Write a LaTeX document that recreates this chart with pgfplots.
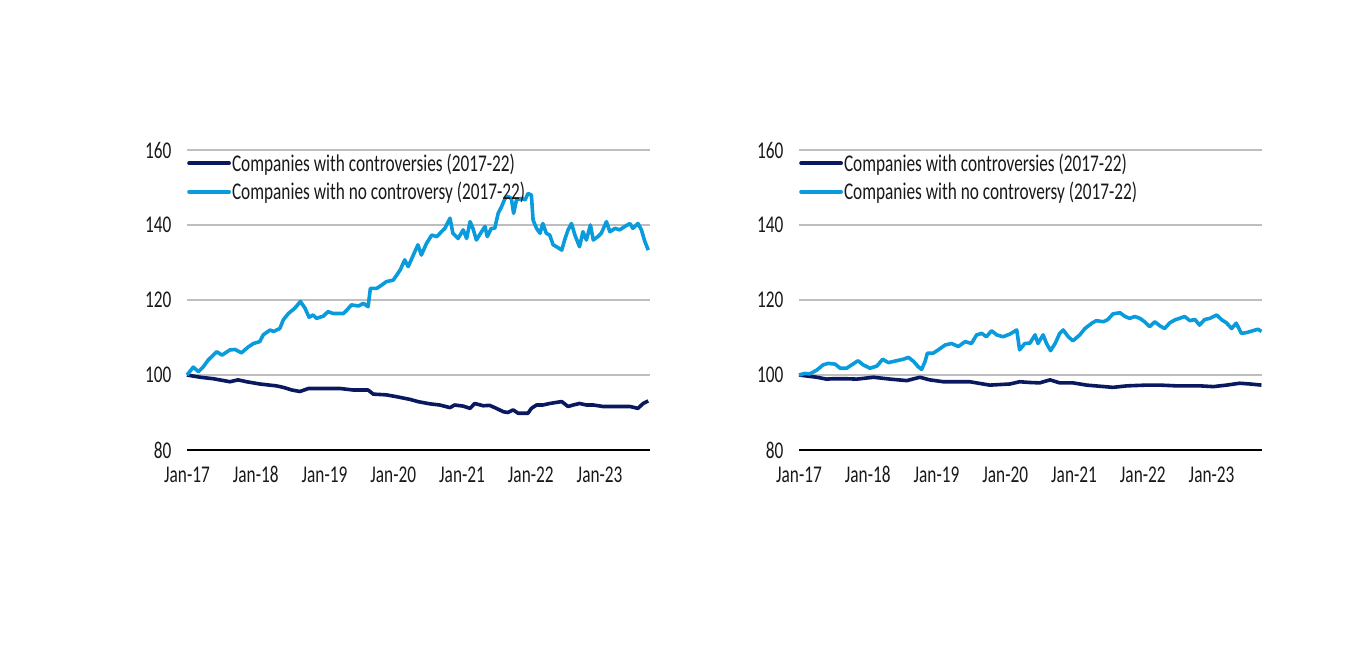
\documentclass[border=0pt]{standalone}
\usepackage{fontspec}
\setmainfont{Carlito}[FakeStretch=0.72]
\usepackage{pgfplots}
\pgfplotsset{compat=1.18}

\definecolor{navy}{RGB}{10,25,95}
\definecolor{sky}{RGB}{10,155,220}
\definecolor{gridgray}{RGB}{190,190,190}

% common look of both panels
\pgfplotsset{
  panel/.style={
    scale only axis,
    width=463pt, height=300pt,
    xmin=0, xmax=80.8,
    ymin=80, ymax=160,
    ytick={80,100,120,140,160},
    xtick={0,12,24,36,48,60,72},
    xticklabels={Jan-17,Jan-18,Jan-19,Jan-20,Jan-21,Jan-22,Jan-23},
    axis x line*=bottom, axis y line*=left,
    y axis line style={draw=none},
    x axis line style={black, line width=2pt, -},
    major tick length=0pt,
    ymajorgrids, grid style={gridgray, line width=1.5pt},
    tick label style={font=\fontsize{24}{26}\selectfont, text=black!90},
    /pgf/number format/assume math mode=true,
    xticklabel style={anchor=base, yshift=-33pt},
    yticklabel style={xshift=-12pt},
    legend style={at={(0,1)}, anchor=north west, draw=none, fill=none,
      font=\fontsize{24}{26}\selectfont, text=black!90,
      inner xsep=0pt, inner ysep=0pt, yshift=-3.5pt,
      row sep=9.5pt,
      nodes={inner xsep=1pt, inner ysep=0pt}},
    legend cell align=left,
    legend image code/.code={\draw[#1, line width=3.8pt, line cap=round] (0pt,0pt) -- (40pt,0pt);},
    clip=false,
  },
  ctrv/.style={navy, line width=3.6pt, line join=round},
  noctrv/.style={sky, line width=3.6pt, line join=round},
}

\begin{document}
\begin{tikzpicture}
\useasboundingbox (0pt,0pt) rectangle (1366pt,661pt);

% left panel
\begin{axis}[panel, at={(187pt,211pt)}, anchor=south west]
\addplot[ctrv] coordinates {
(0,100) (2.3,99.4) (4.6,99.0) (7.5,98.2) (8.9,98.7) (10.4,98.2) (12.7,97.6)
(15.6,97.1) (16.8,96.7) (18.3,96.0) (19.7,95.6) (21.2,96.4) (23.2,96.4)
(26.7,96.4) (29.0,96.0) (31.6,96.0) (32.5,94.9) (34.8,94.7) (36.6,94.2)
(38.9,93.5) (40.3,92.9) (42.4,92.3) (44.1,92.0) (45.9,91.3) (46.7,92.0)
(48.2,91.7) (49.4,91.1) (50.2,92.4) (51.7,91.8) (52.8,91.9) (54.0,91.1)
(55.2,90.2) (56.0,90.0) (56.9,90.7) (57.8,89.8) (59.5,89.8) (60.1,91.1)
(61.0,92.0) (62.1,92.0) (63.3,92.4) (64.5,92.7) (65.4,92.9) (66.5,91.6)
(67.4,92.0) (68.5,92.4) (69.7,92.0) (70.9,92.0) (72.6,91.6) (74.9,91.6)
(77.3,91.6) (78.7,91.1) (79.6,92.4) (80.5,93.1)
};
\addlegendentry{Companies with controversies (2017-22)}
\addplot[noctrv] coordinates {
(0,100) (1.1,102.1) (2.0,100.9) (2.8,102.1) (3.7,104.0) (5.2,106.2) (6.1,105.3)
(7.5,106.7) (8.4,106.8) (9.5,105.9) (10.7,107.5) (11.6,108.4) (12.7,108.9)
(13.3,110.7) (14.5,112.0) (15.1,111.6) (16.2,112.4) (16.8,114.7) (17.7,116.4)
(18.8,117.8) (19.8,119.6) (20.6,117.8) (21.3,115.4) (22.0,116.0) (22.6,115.1)
(23.8,115.7) (24.6,116.9) (25.5,116.4) (27.3,116.4) (27.9,117.3) (28.7,118.7)
(29.9,118.4) (30.8,119.1) (31.6,118.2) (32.0,123.1) (33.1,123.1) (34.0,124.0)
(34.8,124.9) (36.0,125.3) (37.2,128.0) (38.0,130.7) (38.6,128.9) (39.5,132.0)
(40.3,134.7) (40.9,132.0) (41.8,135.1) (42.7,137.3) (43.6,136.9) (44.4,138.2)
(45.0,139.1) (45.9,141.8) (46.4,137.8) (47.3,136.4) (48.2,138.7) (48.8,136.4)
(49.4,140.9) (49.9,139.1) (50.5,136.0) (51.4,138.2) (52.0,139.6) (52.4,136.9)
(53.1,139.1) (53.7,139.1) (54.3,143.1) (54.9,144.9) (55.5,147.1) (56.0,147.6)
(56.6,147.1) (57.0,143.1) (57.5,146.7) (58.4,147.1) (59.0,146.7) (59.5,148.4)
(60.1,148.0) (60.4,141.3) (61.0,139.1) (61.6,137.8) (62.1,140.4) (62.7,137.8)
(63.3,137.3) (63.9,134.7) (64.5,134.2) (65.4,133.3) (65.9,136.0) (66.5,138.7)
(67.1,140.4) (67.7,137.3) (68.5,134.2) (69.1,138.2) (69.7,136.0) (70.4,140.0)
(70.9,136.0) (71.7,136.9) (72.3,137.8) (73.2,140.9) (73.8,138.2) (74.7,139.1)
(75.5,138.7) (76.4,139.6) (77.3,140.4) (77.8,139.1) (78.7,140.4) (79.3,138.7)
(79.9,135.6) (80.5,133.3)
};
\addlegendentry{Companies with no controversy (2017-22)}
\end{axis}

% right panel
\begin{axis}[panel, at={(799pt,211pt)}, anchor=south west]
\addplot[ctrv] coordinates {
(0,100) (3.1,99.4) (4.8,98.9) (6.0,99.0) (8.3,99.0) (10.1,98.9) (13.0,99.4)
(15.9,98.9) (18.8,98.5) (21.1,99.4) (22.8,98.7) (25.2,98.2) (29.8,98.2)
(33.3,97.3) (36.8,97.6) (38.5,98.2) (40.3,98.0) (42.0,97.9) (43.8,98.7)
(45.5,97.9) (47.8,97.9) (50.2,97.3) (54.8,96.7) (57.2,97.1) (60.6,97.3)
(63.0,97.3) (65.9,97.1) (70.0,97.1) (72.3,96.9) (74.6,97.3) (76.9,97.8)
(78.7,97.6) (80.7,97.3)
};
\addlegendentry{Companies with controversies (2017-22)}
\addplot[noctrv] coordinates {
(0,100) (1.0,100.4) (1.9,100.3) (3.1,101.3) (4.2,102.7) (5.1,103.1) (6.3,102.9)
(7.2,101.8) (8.3,101.8) (9.2,102.7) (10.3,103.8) (11.2,102.7) (12.4,101.8)
(13.6,102.4) (14.6,104.2) (15.6,103.3) (17.0,103.8) (18.2,104.2) (19.1,104.7)
(20.0,103.6) (20.8,102.2) (21.4,101.5) (22.0,103.6) (22.4,105.8) (23.4,105.8)
(24.3,106.7) (25.5,108.0) (26.6,108.4) (27.8,107.6) (29.0,108.9) (30.1,108.4)
(31.0,110.7) (31.9,111.1) (32.7,110.2) (33.6,111.8) (34.5,110.7) (35.6,110.2)
(36.8,110.9) (38.0,112.0) (38.5,106.7) (39.4,108.4) (40.3,108.5) (41.2,110.7)
(41.7,108.4) (42.6,110.7) (43.2,108.4) (43.9,106.5) (44.7,108.4) (45.5,111.1)
(46.1,112.0) (47.0,110.2) (47.8,109.1) (49.0,110.7) (49.9,112.4) (51.1,113.8)
(51.9,114.5) (53.1,114.2) (53.9,114.8) (54.8,116.3) (56.0,116.6) (56.9,115.6)
(57.7,115.1) (58.6,115.6) (59.5,115.1) (60.3,114.2) (61.2,112.9) (62.1,114.2)
(63.0,113.1) (63.8,112.4) (64.7,113.9) (65.6,114.7) (66.4,115.1) (67.3,115.6)
(68.2,114.5) (69.1,114.8) (69.9,113.3) (70.8,114.8) (71.7,115.1) (72.9,116.0)
(73.7,114.8) (74.6,113.9) (75.5,112.4) (76.3,113.8) (77.2,111.1) (78.1,111.3)
(79.2,111.8) (80.1,112.2) (80.7,111.6)
};
\addlegendentry{Companies with no controversy (2017-22)}
\end{axis}
\end{tikzpicture}
\end{document}
